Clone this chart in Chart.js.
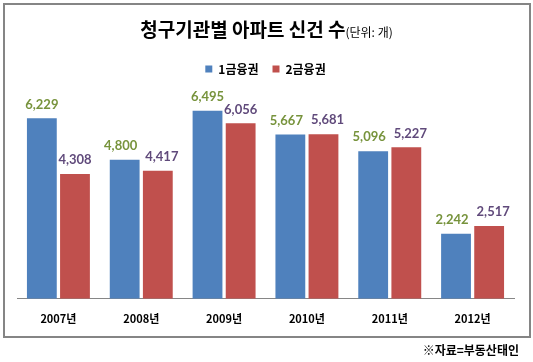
<!DOCTYPE html>
<html>
<head>
<meta charset="utf-8">
<script src="https://cdn.jsdelivr.net/npm/chart.js@4/dist/chart.umd.min.js"></script>
<style>
  body { margin: 0; background: #fff; font-family: "Noto Sans CJK KR", sans-serif; }
  #wrap { position: relative; width: 533px; height: 362px; }
  #frame { position: absolute; left: 3px; top: 3px; width: 524px; height: 331px; border: 2px solid #858585; }
  #title { position: absolute; left: 0; top: 15px; width: 533px; text-align: center; font-size: 19px; font-weight: bold; color: #000; line-height: 28px; }
  #title small { font-size: 12px; font-weight: normal; }
  #note { position: absolute; right: 14px; top: 341px; font-size: 12px; font-weight: bold; color: #000; }
  canvas { position: absolute; left: 0; top: 0; }
</style>
</head>
<body>
<div id="wrap">
  <div id="frame"></div>
  <canvas id="chart" width="533" height="362"></canvas>
  <div id="title">청구기관별 아파트 신건 수<small>(단위: 개)</small></div>
  <div id="note">※자료=부동산태인</div>
</div>
<script>
// 데이터
const anni = ['2007년', '2008년', '2009년', '2010년', '2011년', '2012년'];
const primoSettore = [6229, 4800, 6495, 5667, 5096, 2242];
const secondoSettore = [4308, 4417, 6056, 5681, 5227, 2517];
const nomiSerie = ['1금융권', '2금융권'];

const coloriBarre = ['#4F81BD', '#C0504D'];
const coloriEtichette = ['#77933C', '#604A7B'];

// Etichette sopra le barre (spostate se si sovrappongono)
const etichettePlugin = {
    id: 'etichette',
    afterDatasetsDraw(chart) {
        const ctx = chart.ctx;
        ctx.save();
        ctx.font = 'bold 13px Lato, sans-serif';
        ctx.textAlign = 'center';
        ctx.textBaseline = 'middle';
        const metaA = chart.getDatasetMeta(0).data;
        const metaB = chart.getDatasetMeta(1).data;
        chart.data.labels.forEach((_, j) => {
            const tA = chart.data.datasets[0].data[j].toLocaleString('en-US');
            const tB = chart.data.datasets[1].data[j].toLocaleString('en-US');
            let xA = metaA[j].x, yA = metaA[j].y - 14;
            let xB = metaB[j].x, yB = metaB[j].y - 14;
            const richiesta = (ctx.measureText(tA).width + ctx.measureText(tB).width) / 2 + 8;
            if (Math.abs(yA - yB) < 12 && xB - xA < richiesta) {
                const delta = (richiesta - (xB - xA)) / 2;
                xA -= delta;
                xB += delta;
            }
            ctx.fillStyle = coloriEtichette[0];
            ctx.fillText(tA, xA, yA);
            ctx.fillStyle = coloriEtichette[1];
            ctx.fillText(tB, xB, yB);
        });
        ctx.restore();
    }
};

// Spazio extra sotto la legenda
const margineLegenda = {
    id: 'margineLegenda',
    beforeInit(chart) {
        const fitOriginale = chart.legend.fit;
        chart.legend.fit = function () {
            fitOriginale.bind(chart.legend)();
            this.height += 11;
        };
    }
};

new Chart(document.getElementById('chart').getContext('2d'), {
    type: 'bar',
    data: {
        labels: anni,
        datasets: [{
            label: nomiSerie[0],
            data: primoSettore,
            backgroundColor: coloriBarre[0],
            categoryPercentage: 0.8,
            barPercentage: 0.9
        }, {
            label: nomiSerie[1],
            data: secondoSettore,
            backgroundColor: coloriBarre[1],
            categoryPercentage: 0.8,
            barPercentage: 0.9
        }]
    },
    options: {
        responsive: false,
        animation: false,
        layout: {
            padding: { left: 17, right: 19, top: 49, bottom: 24 }
        },
        plugins: {
            legend: {
                position: 'top',
                labels: {
                    boxWidth: 7,
                    boxHeight: 7,
                    padding: 14,
                    color: '#000',
                    font: { family: '"Noto Sans CJK KR", sans-serif', size: 12, weight: 'bold' }
                }
            },
            tooltip: { enabled: false }
        },
        scales: {
            x: {
                grid: { display: false, drawTicks: false },
                border: { display: true, color: '#868686', width: 1 },
                ticks: {
                    padding: 13,
                    color: '#000',
                    font: { family: '"Noto Sans CJK KR", sans-serif', size: 11, weight: 'bold' }
                }
            },
            y: {
                display: false,
                min: 0,
                max: 7000
            }
        }
    },
    plugins: [etichettePlugin, margineLegenda]
});
</script>
</body>
</html>
